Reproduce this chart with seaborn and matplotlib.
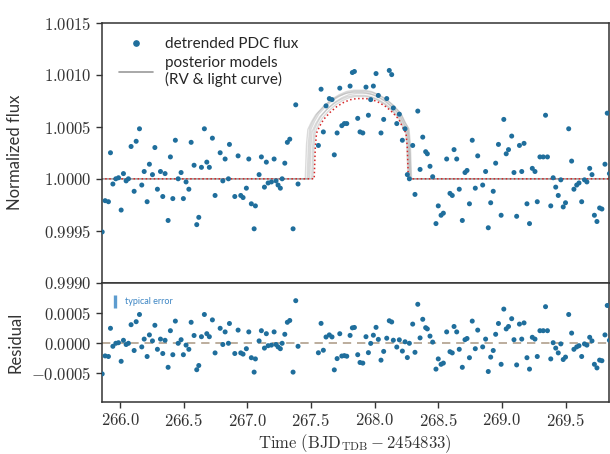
import numpy as np
import pandas as pd
import matplotlib
matplotlib.use("Agg")
import matplotlib.pyplot as plt
from matplotlib.ticker import FuncFormatter, MultipleLocator
from matplotlib.lines import Line2D
import seaborn as sns

# Detrended Kepler PDC photometry around the pulse (BJD_TDB - 2454833)
time = [
    265.859, 265.882, 265.908, 265.924, 265.943, 265.966, 265.987, 266.008, 266.026, 266.047,
    266.065, 266.086, 266.110, 266.126, 266.152, 266.170, 266.189, 266.212, 266.230, 266.254,
    266.273, 266.293, 266.317, 266.335, 266.353, 266.377, 266.395, 266.414, 266.434, 266.456,
    266.479, 266.497, 266.518, 266.540, 266.558, 266.581, 266.602, 266.618, 266.639, 266.662,
    266.681, 266.701, 266.725, 266.746, 266.786, 266.807, 266.825, 266.851, 266.859, 266.901,
    266.927, 266.948, 266.966, 266.992, 267.011, 267.031, 267.053, 267.063, 267.092, 267.110,
    267.134, 267.149, 267.163, 267.189, 267.210, 267.225, 267.241, 267.259, 267.273, 267.294,
    267.314, 267.333, 267.359, 267.380, 267.398,
    267.558, 267.579, 267.597, 267.618, 267.644, 267.665, 267.683, 267.705, 267.726, 267.742,
    267.762, 267.781, 267.807, 267.825, 267.841, 267.867, 267.885, 267.907, 267.932, 267.951,
    267.969, 267.990, 268.011, 268.029, 268.050, 268.071, 268.095, 268.115, 268.134, 268.147,
    268.174, 268.194, 268.218, 268.239, 268.257, 268.273, 268.299, 268.317, 268.339, 268.357,
    268.378, 268.401, 268.414, 268.435, 268.456, 268.482, 268.500, 268.522, 268.540, 268.566,
    268.592, 268.610, 268.624, 268.645, 268.665, 268.689, 268.710, 268.726, 268.745, 268.767,
    268.791, 268.810, 268.849, 268.872, 268.893, 268.912, 268.932, 268.951, 268.973, 268.994,
    269.015, 269.034, 269.052, 269.077, 269.095, 269.116, 269.138, 269.156, 269.174, 269.197,
    269.217, 269.239, 269.260, 269.278, 269.299, 269.325, 269.343, 269.358, 269.384, 269.403,
    269.423, 269.443, 269.463, 269.482, 269.500, 269.525, 269.548, 269.566, 269.588, 269.606,
    269.627, 269.649, 269.668, 269.690, 269.708, 269.727, 269.747, 269.768, 269.786, 269.810,
    269.828, 269.845,
]
flux = [
    0.99949, 0.99979, 0.99978, 1.00025, 0.99995, 1.00000, 1.00001, 0.99970, 1.00005, 0.99998,
    1.00000, 1.00031, 0.99988, 1.00036, 1.00048, 0.99994, 1.00007, 0.99978, 1.00014, 1.00004,
    1.00030, 0.99990, 1.00007, 0.99983, 1.00005, 0.99960, 1.00021, 0.99981, 1.00037, 1.00000,
    1.00006, 0.99981, 0.99997, 0.99990, 1.00035, 1.00013, 0.99956, 0.99963, 1.00011, 1.00048,
    1.00016, 1.00011, 1.00039, 0.99984, 1.00025, 0.99998, 1.00019, 1.00000, 1.00033, 0.99983,
    1.00022, 0.99984, 0.99982, 0.99991, 1.00019, 0.99976, 0.99952, 0.99974, 1.00004, 1.00021,
    0.99992, 1.00016, 0.99996, 0.99997, 1.00019, 0.99998, 0.99994, 0.99991, 1.00000, 1.00015,
    1.00035, 1.00038, 0.99952, 1.00071, 0.99995,
    1.00032, 1.00086, 1.00045, 1.00070, 1.00077, 1.00076, 1.00023, 1.00044, 1.00087, 1.00051,
    1.00053, 1.00053, 1.00089, 1.00102, 1.00103, 1.00058, 1.00045, 1.00044, 1.00088, 1.00061,
    1.00076, 1.00089, 1.00101, 1.00080, 1.00044, 1.00057, 1.00077, 1.00104, 1.00100, 1.00068,
    1.00053, 1.00062, 1.00037, 1.00048, 1.00004, 1.00000, 1.00032, 0.99985, 1.00065, 1.00009,
    1.00040, 1.00026, 1.00024, 1.00012, 1.00002, 0.99957, 0.99974, 0.99965, 0.99967, 1.00019,
    0.99986, 0.99984, 1.00028, 1.00019, 0.99990, 0.99960, 1.00006, 1.00008, 0.99976, 1.00037,
    0.99991, 1.00022, 0.99994, 1.00007, 0.99953, 0.99977, 0.99988, 1.00015, 1.00033, 0.99965,
    1.00057, 1.00024, 1.00028, 1.00041, 1.00006, 0.99964, 1.00032, 1.00007, 1.00034, 0.99976,
    0.99957, 1.00010, 1.00007, 0.99978, 1.00021, 1.00021, 1.00061, 1.00021, 0.99974, 1.00001,
    0.99992, 0.99984, 0.99999, 0.99973, 0.99977, 1.00048, 1.00017, 0.99990, 0.99994, 0.99996,
    0.99978, 0.99999, 0.99997, 1.00010, 1.00004, 0.99965, 0.99959, 0.99972, 0.99971, 1.00014,
    1.00063, 1.00005,
]

# Pulse profile: fractional position across the event and height relative to the peak
pulse_phase = [0.0, 0.012, 0.025, 0.06, 0.10, 0.17, 0.24, 0.31, 0.38, 0.45, 0.50,
               0.55, 0.62, 0.69, 0.76, 0.83, 0.90, 0.94, 0.975, 0.988, 1.0]
pulse_height = [0.0, 0.40, 0.57, 0.66, 0.74, 0.83, 0.90, 0.95, 0.985, 1.0, 1.0,
                1.0, 0.985, 0.95, 0.90, 0.83, 0.74, 0.64, 0.57, 0.40, 0.0]

# Best-fit model: start, end, peak amplitude
best_start, best_end, best_peak = 267.525, 268.265, 0.00077
# Posterior draws (RV & light curve): start, end, peak amplitude
post_start = [267.455, 267.470, 267.490, 267.505, 267.515, 267.480]
post_end = [268.275, 268.285, 268.270, 268.280, 268.262, 268.290]
post_peak = [0.00083, 0.00085, 0.00080, 0.00082, 0.00079, 0.00084]

t_lo, t_hi = 265.855, 269.84
err_typical = 0.00011


def pulse_curve(start, end, peak):
    ph = np.asarray(pulse_phase)
    t = np.concatenate([[t_lo - 0.1], start + ph * (end - start), [t_hi + 0.1]])
    f = np.concatenate([[1.0], 1.0 + peak * np.asarray(pulse_height), [1.0]])
    return t, f


best_t, best_f = pulse_curve(best_start, best_end, best_peak)
time_arr = np.asarray(time)
flux_arr = np.asarray(flux)
resid = flux_arr - np.interp(time_arr, best_t, best_f)
df = pd.DataFrame({"time": time_arr, "flux": flux_arr, "resid": resid})

sns.set_style("ticks")
plt.rcParams["mathtext.fontset"] = "cm"
plt.rcParams["font.family"] = ["Lato", "DejaVu Sans"]

pt_color = "#1f6e9c"
model_gray = "#9a9a9a"

fig = plt.figure(figsize=(6.1, 4.54), dpi=100)
ax1 = fig.add_axes([0.1667, 0.3767, 0.8313, 0.5737])
ax2 = fig.add_axes([0.1667, 0.1152, 0.8313, 0.2615], sharex=ax1)

# Posterior model draws
for s, e, p in zip(post_start, post_end, post_peak):
    gt, gf = pulse_curve(s, e, p)
    sns.lineplot(x=gt, y=gf, ax=ax1, color=model_gray, alpha=0.35, lw=1.0,
                 estimator=None, sort=False, legend=False)
sns.lineplot(x=best_t, y=best_f, ax=ax1, color="#d62728", lw=1.1, ls=":",
             estimator=None, sort=False, legend=False)

sns.scatterplot(data=df, x="time", y="flux", ax=ax1, color=pt_color, s=13,
                edgecolor="none", legend=False, zorder=3)

handles = [
    Line2D([], [], ls="none", marker="o", color=pt_color, markersize=3.8),
    Line2D([], [], color=model_gray, lw=1.2),
]
ax1.legend(handles, ["detrended PDC flux", "posterior models\n(RV & light curve)"],
           loc="upper left", frameon=False, fontsize=11, handlelength=2.2,
           handletextpad=0.8, borderaxespad=0.4, labelspacing=0.3,
           bbox_to_anchor=(0.01, 0.99))

# Residuals
ax2.axhline(0, color="#b0a08c", lw=1.2, ls=(0, (5, 3.5)), zorder=1)
sns.scatterplot(data=df, x="time", y="resid", ax=ax2, color=pt_color, s=13,
                edgecolor="none", legend=False, zorder=3)
ax2.errorbar([265.96], [0.00069], yerr=[err_typical], fmt="none",
             ecolor="#5d9ccf", elinewidth=2.4, capsize=0)
ax2.text(266.035, 0.00069, "typical error", color="#3d86c4", fontsize=6.5,
         va="center", ha="left")

ax1.set_xlim(t_lo, t_hi)
ax1.set_ylim(0.9990, 1.0015)
ax2.set_ylim(-0.000973, 0.001005)

ax1.yaxis.set_major_locator(MultipleLocator(0.0005))
ax2.set_yticks([-0.0005, 0.0, 0.0005])
ax2.xaxis.set_major_locator(MultipleLocator(0.5))

ax1.yaxis.set_major_formatter(FuncFormatter(lambda v, pos: r"$%.4f$" % v))
ax2.yaxis.set_major_formatter(
    FuncFormatter(lambda v, pos: r"$%.4f$" % (0.0 if abs(v) < 1e-12 else v)))
ax2.xaxis.set_major_formatter(FuncFormatter(lambda v, pos: r"$%.1f$" % v))

ax1.tick_params(axis="x", which="both", bottom=False, labelbottom=False)
for ax in (ax1, ax2):
    ax.tick_params(axis="y", direction="out", length=4, width=1, labelsize=12,
                   colors="#333333", labelcolor="#333333")
    for sp in ax.spines.values():
        sp.set_visible(True)
        sp.set_color("#333333")
        sp.set_linewidth(1.1)
ax2.tick_params(axis="x", direction="out", length=4, width=1, labelsize=12,
                colors="#333333", labelcolor="#333333")

ax1.set_xlabel("")
ax1.set_ylabel("Normalized flux", fontsize=12, color="#333333")
ax2.set_ylabel("Residual", fontsize=12, color="#333333")
ax2.set_xlabel(r"$\mathrm{Time\ (BJD_{TDB} - 2454833)}$", fontsize=12,
               color="#333333", labelpad=2)
ax1.yaxis.set_label_coords(-0.155, 0.5)
ax2.yaxis.set_label_coords(-0.155, 0.5)

fig.savefig("out.png", dpi=100)
